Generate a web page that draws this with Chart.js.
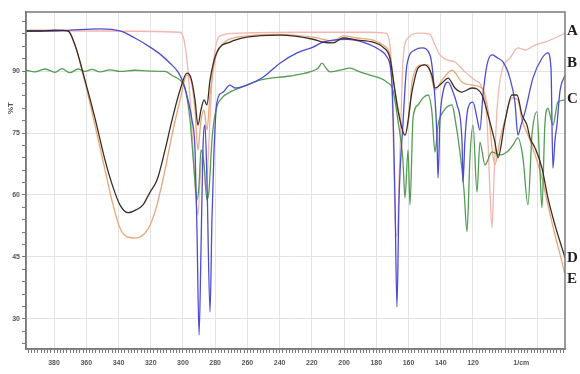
<!DOCTYPE html>
<html>
<head>
<meta charset="utf-8">
<script src="https://cdn.jsdelivr.net/npm/chart.js@4"></script>
<style>
  body { margin: 0; background: #fff; }
  #wrap { width: 580px; height: 374px; position: relative; }
</style>
</head>
<body>
<div id="wrap"><canvas id="plot"></canvas></div>
<script>
// series names, shown at the right edge
const seriesNames = ['A', 'B', 'C', 'D', 'E'];

// wavenumbers (1/cm) and transmittance (%T)
const aWn = [3974,3515,3018,2993,2969,2944,2919,2907,2894,2876,2857,2838,2820,2795,2758,2646,2274,1839,1746,1715,1697,1684,1672,1653,1634,1603,1529,1467,1436,1405,1361,1312,1250,1188,1144,1113,1095,1082,1070,1051,1020,971,921,877,815,753,691,629];
const aT = [99.7,99.7,99.4,97.5,90.2,75.7,58.8,55.2,63.6,70.9,61.2,73.3,87.8,96.3,98.7,99.2,99.4,99.4,99.2,96.3,78.1,55.0,50.0,70.9,92.7,98.0,99.2,98.9,96.3,93.9,92.7,92.2,89.8,87.8,85.9,78.1,61.2,52.0,63.6,80.6,90.2,93.1,95.6,95.1,96.3,97.0,98.0,99.2];

const bWn = [3974,3825,3701,3515,3391,3298,3204,3142,3080,3031,3000,2969,2944,2925,2913,2900,2888,2876,2863,2851,2832,2820,2807,2789,2751,2708,2677,2603,2503,2398,2292,2193,2131,2069,1982,1883,1778,1734,1703,1684,1672,1659,1635,1610,1560,1517,1467,1448,1424,1417,1405,1386,1355,1324,1299,1268,1262,1250,1231,1200,1175,1157,1138,1113,1082,1045,1014,971,940,921,902,877,828,772,735,716,704,691,679,661,629];
const bT = [99.7,99.7,99.9,100.2,99.7,98.0,95.8,94.1,91.9,89.8,87.3,83.0,78.1,70.9,51.5,26.1,46.7,70.9,76.9,63.6,31.7,54.0,70.9,82.5,84.9,86.6,85.9,86.6,88.5,91.9,94.4,95.8,97.0,97.5,97.7,97.0,95.1,93.4,87.1,58.8,32.9,58.8,76.9,91.5,95.1,95.6,93.9,89.0,74.5,64.1,78.1,84.9,87.3,84.9,81.8,72.8,63.1,73.3,81.0,82.5,78.6,75.7,84.2,91.5,93.9,93.1,92.2,88.3,82.5,74.5,76.9,80.1,88.3,93.1,94.4,90.7,66.5,73.3,76.9,84.9,89.0];

const cWn = [3974,3918,3856,3794,3751,3701,3651,3608,3564,3515,3453,3391,3298,3204,3111,3062,3018,2987,2956,2931,2913,2900,2888,2869,2851,2838,2820,2795,2758,2708,2615,2522,2336,2212,2162,2137,2112,2088,2026,1964,1902,1839,1778,1734,1697,1666,1635,1622,1603,1591,1572,1541,1510,1479,1455,1436,1417,1386,1330,1312,1281,1256,1237,1219,1200,1175,1157,1126,1082,1033,989,952,921,890,859,834,803,784,772,754,735,704,673,629];
const cT = [90.2,89.8,90.5,89.7,90.6,89.6,90.5,89.9,90.4,89.8,90.3,89.9,90.2,90.0,89.9,88.8,87.8,85.9,78.1,66.1,58.8,62.4,70.9,67.3,58.8,61.2,73.3,80.6,83.5,84.9,86.4,87.8,88.8,89.8,90.7,91.9,90.7,89.8,90.2,90.7,89.8,89.0,88.3,87.3,85.4,78.1,68.5,59.3,70.9,57.6,78.6,81.8,83.5,84.2,80.1,70.4,76.9,80.1,81.8,78.6,70.4,61.2,51.1,69.0,76.9,60.7,72.8,67.3,70.4,69.7,70.4,72.1,73.8,69.0,57.6,74.5,80.1,65.6,56.9,76.9,81.0,76.9,82.5,83.0];

const dWn = [3974,3887,3794,3713,3670,3608,3546,3484,3434,3391,3341,3291,3248,3204,3161,3111,3068,3018,2975,2950,2925,2907,2888,2869,2851,2832,2789,2708,2603,2398,2193,2131,2069,2007,1920,1821,1759,1715,1690,1666,1622,1579,1541,1498,1455,1436,1392,1355,1312,1268,1206,1144,1107,1064,1045,1002,958,927,896,865,846,815,772,735,691,648,629];
const dT = [99.7,99.7,99.9,99.7,96.3,87.8,78.6,68.5,61.9,57.6,55.7,56.4,57.6,60.7,63.6,70.9,78.1,85.4,89.5,88.3,83.0,76.9,80.6,83.0,81.8,87.8,94.6,97.0,98.2,98.7,97.7,97.0,96.8,98.0,97.5,97.0,95.8,93.1,86.6,80.6,74.5,84.9,90.7,91.5,89.0,85.9,87.1,88.3,85.9,84.9,85.9,84.2,79.4,72.8,69.0,77.7,84.2,84.2,79.4,76.9,73.8,71.4,66.5,59.3,52.7,47.2,44.8];

const eWn = [3974,3887,3794,3713,3670,3608,3546,3484,3434,3391,3341,3291,3235,3204,3161,3111,3068,3018,2975,2950,2925,2907,2888,2869,2851,2832,2801,2758,2665,2398,2193,2069,2007,1920,1821,1759,1715,1684,1653,1622,1591,1579,1517,1479,1436,1392,1330,1268,1206,1144,1107,1064,1033,1002,958,921,896,859,815,772,735,691,648,629];
const eT = [99.9,99.9,99.9,99.7,96.3,87.3,76.9,66.1,57.6,52.0,49.8,49.6,50.8,52.7,57.6,66.1,74.5,83.0,89.0,87.8,80.6,70.9,78.1,80.6,75.7,84.2,92.7,96.3,98.2,98.9,98.2,97.3,98.5,98.0,97.5,96.3,93.9,85.4,78.6,74.5,81.0,87.3,91.5,91.5,85.4,87.8,90.2,87.3,86.6,85.9,80.6,67.3,73.3,78.1,83.5,83.0,78.1,74.5,69.7,64.1,57.6,50.3,43.8,40.7];

// axis ticks
const xMajor = [3800,3600,3400,3200,3000,2800,2600,2400,2200,2000,1800,1600,1400,1200];
const yMajor = [30,45,60,75,90];

const toPoints = (xs, ys) => xs.map((x, i) => ({ x: x, y: ys[i] }));

const colors = ['#f2b6ae', '#4d4dd2', '#559c55', '#3c2d25', '#e9a679'];
const series = [[aWn, aT], [bWn, bT], [cWn, cT], [dWn, dT], [eWn, eT]];
const drawOrder = [5, 2, 3, 1, 4];

// letters at the right end of each curve, %T where they sit
const letterAt = [99.6, 91.8, 83.2, 44.8, 39.6];

const extras = {
    id: 'extras',
    afterDraw(chart) {
        const ctx = chart.ctx;
        const a = chart.chartArea;
        ctx.save();
        ctx.strokeStyle = '#7a7a7a';
        ctx.lineWidth = 1.5;
        ctx.strokeRect(a.left, a.top, a.right - a.left, a.bottom - a.top);

        ctx.fillStyle = '#1e1e1e';
        ctx.font = 'bold 15px "Liberation Serif"';
        ctx.textBaseline = 'middle';
        ctx.textAlign = 'left';
        seriesNames.forEach((n, i) => {
            ctx.fillText(n, a.right + 2, chart.scales.y.getPixelForValue(letterAt[i]));
        });

        // %T axis label
        ctx.translate(11, 108);
        ctx.rotate(-Math.PI / 2);
        ctx.textAlign = 'center';
        ctx.font = 'bold 8px "Liberation Sans"';
        ctx.fillStyle = '#555';
        ctx.fillText('%T', 0, 0);
        ctx.restore();
    }
};

const tickFont = { family: 'Liberation Sans', size: 7, weight: 'bold' };

const config = {
    type: 'scatter',
    data: {
        datasets: series.map((s, i) => ({
            label: seriesNames[i],
            data: toPoints(s[0], s[1]),
            showLine: true,
            borderColor: colors[i],
            borderWidth: 1.3,
            pointRadius: 0,
            cubicInterpolationMode: 'monotone',
            order: drawOrder[i]
        }))
    },
    options: {
        responsive: true,
        maintainAspectRatio: false,
        animation: false,
        layout: { padding: { top: 12, right: 15, left: 0, bottom: 0 } },
        plugins: { legend: { display: false }, tooltip: { enabled: false } },
        scales: {
            x: {
                type: 'linear',
                reverse: true,
                min: 629,
                max: 3974,
                afterBuildTicks: (scale) => {
                    const t = [];
                    for (let v = 640; v <= 3960; v += 20) t.push({ value: v });
                    scale.ticks = t;
                },
                afterFit: (scale) => { scale.height = 25; },
                ticks: {
                    autoSkip: false,
                    maxRotation: 0,
                    padding: 6,
                    color: '#555',
                    font: tickFont,
                    callback: (v) => {
                        if (xMajor.includes(v)) return String(v / 10);
                        if (v === 900) return '1/cm';
                        return '';
                    }
                },
                grid: {
                    color: (c) => (c.tick && c.tick.value % 200 === 0) ? '#e3e3e3' : 'rgba(0,0,0,0)',
                    tickColor: '#777',
                    tickLength: 4
                },
                border: { color: '#7a7a7a', width: 1.5 }
            },
            y: {
                min: 22.7,
                max: 104.3,
                afterBuildTicks: (scale) => {
                    const t = [];
                    for (let v = 24; v <= 102; v += 3) t.push({ value: v });
                    scale.ticks = t;
                },
                afterFit: (scale) => { scale.width = 26; },
                ticks: {
                    autoSkip: false,
                    padding: 2,
                    color: '#555',
                    font: tickFont,
                    callback: (v) => yMajor.includes(v) ? String(v) : ''
                },
                grid: {
                    color: (c) => (c.tick && yMajor.includes(c.tick.value)) ? '#e3e3e3' : 'rgba(0,0,0,0)',
                    tickColor: '#777',
                    tickLength: 4
                },
                border: { color: '#7a7a7a', width: 1.5 }
            }
        }
    },
    plugins: [extras]
};

const myChart = new Chart(document.getElementById('plot'), config);
</script>
</body>
</html>
